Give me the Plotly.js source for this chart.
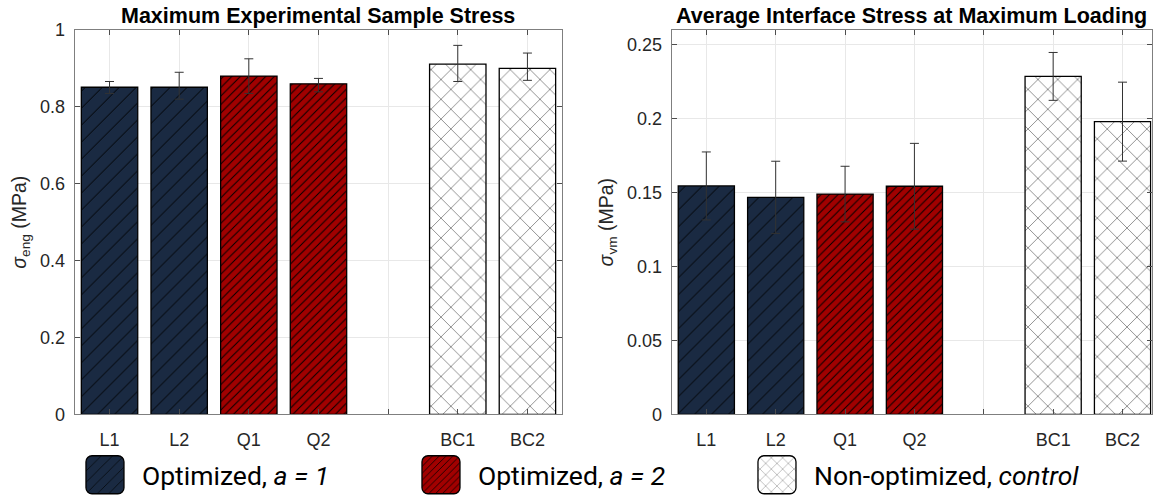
<!DOCTYPE html>
<html>
<head>
<meta charset="utf-8">
<script src="https://cdn.plot.ly/plotly-3.0.1.min.js"></script>
<style>
  html, body { margin: 0; padding: 0; background: #fff; }
  #chart { width: 1160px; height: 499px; }
</style>
</head>
<body>
<div id="chart"></div>
<script>
// Sample categories along the axis; the blank slot separates the control group
const axisCategories = ['L1', 'L2', 'Q1', 'Q2', ' ', 'BC1', 'BC2'];

// Groups
const linearSamples = ['L1', 'L2'];
const quadSamples = ['Q1', 'Q2'];
const controlSamples = ['BC1', 'BC2'];

const groupNames = ['Optimized, <i>a = 1</i>', 'Optimized, <i>a = 2</i>', 'Non-optimized, <i>control</i>'];

// Maximum experimental sample stress, sigma_eng (MPa)
const engLinear = [0.851, 0.851];
const engLinearErrUp = [0.015, 0.039];
const engLinearErrDown = [0.016, 0.031];
const engQuad = [0.880, 0.860];
const engQuadErrUp = [0.045, 0.014];
const engQuadErrDown = [0.045, 0.021];
const engControl = [0.911, 0.900];
const engControlErrUp = [0.049, 0.040];
const engControlErrDown = [0.045, 0.031];

// Average interface stress at maximum loading, sigma_vm (MPa)
const vmLinear = [0.1545, 0.1468];
const vmLinearErr = [0.0230, 0.0244];
const vmQuad = [0.1490, 0.1543];
const vmQuadErr = [0.0188, 0.0290];
const vmControl = [0.2286, 0.1980];
const vmControlErr = [0.0162, 0.0267];

const navy = '#1a2a42';
const crimson = '#a10000';

const styles = [
  { color: navy, pattern: { shape: '/', bgcolor: navy, fgcolor: '#000000', size: 12, solidity: 0.08 } },
  { color: crimson, pattern: { shape: '/', bgcolor: crimson, fgcolor: '#000000', size: 6, solidity: 0.16 } },
  { color: '#ffffff', pattern: { shape: 'x', bgcolor: '#ffffff', fgcolor: '#8c8c8c', size: 14, solidity: 0.13 } }
];

function barTrace(x, y, up, down, k, xa, ya, showLegend) {
  return {
    type: 'bar',
    x: x, y: y,
    xaxis: xa, yaxis: ya,
    width: 0.81,
    name: groupNames[k],
    legendgroup: 'g' + k,
    showlegend: showLegend,
    marker: {
      color: styles[k].color,
      pattern: styles[k].pattern,
      line: { color: '#000000', width: 1.3 }
    },
    error_y: {
      type: 'data', symmetric: false,
      array: up, arrayminus: down,
      color: '#333333', thickness: 1, width: 4.5
    },
    hoverinfo: 'x+y'
  };
}

const traces = [
  barTrace(linearSamples, engLinear, engLinearErrUp, engLinearErrDown, 0, 'x', 'y', true),
  barTrace(quadSamples, engQuad, engQuadErrUp, engQuadErrDown, 1, 'x', 'y', true),
  barTrace(controlSamples, engControl, engControlErrUp, engControlErrDown, 2, 'x', 'y', true),
  barTrace(linearSamples, vmLinear, vmLinearErr, vmLinearErr, 0, 'x2', 'y2', false),
  barTrace(quadSamples, vmQuad, vmQuadErr, vmQuadErr, 1, 'x2', 'y2', false),
  barTrace(controlSamples, vmControl, vmControlErr, vmControlErr, 2, 'x2', 'y2', false)
];

const tickFont = { family: 'Liberation Sans, Arial, sans-serif', size: 18, color: '#262626' };
const frame = {
  showline: true, linecolor: '#7f7f7f', linewidth: 1, mirror: 'ticks',
  ticks: 'inside', ticklen: 5, tickcolor: '#4d4d4d', tickwidth: 1,
  showgrid: true, gridcolor: '#e8e8e8', gridwidth: 1,
  zeroline: false, tickfont: tickFont, fixedrange: true
};

function catAxis(domain, range, yRef) {
  return Object.assign({}, frame, {
    type: 'category', categoryorder: 'array', categoryarray: axisCategories,
    domain: domain, range: range, anchor: yRef, ticklabelstandoff: 9
  });
}

function valAxis(domain, range, dtick, xRef, titleText, standoff) {
  return Object.assign({}, frame, {
    domain: domain, range: range, dtick: dtick, anchor: xRef,
    ticklabelstandoff: 5,
    title: { text: titleText, standoff: standoff,
             font: { family: 'Liberation Sans, Arial, sans-serif', size: 19.5, color: '#262626' } }
  });
}

const titleFont = { family: 'Liberation Sans, Arial, sans-serif', size: 21.5, color: '#000000' };

const layout = {
  width: 1160, height: 499,
  margin: { l: 0, r: 0, t: 0, b: 0 },
  paper_bgcolor: '#ffffff', plot_bgcolor: '#ffffff',
  barmode: 'overlay',
  showlegend: true,
  xaxis: catAxis([0.0644, 0.4847], [-0.5, 6.5], 'y'),
  yaxis: valAxis([0.1697, 0.9399], [0, 1], 0.2, 'x', '<i>σ</i><sub>eng</sub> (MPa)', 8),
  xaxis2: catAxis([0.579, 0.9928], [-0.5, 6.42], 'y2'),
  yaxis2: valAxis([0.1697, 0.9399], [0, 0.26], 0.05, 'x2', '<i>σ</i><sub>vm</sub> (MPa)', 8),
  legend: {
    orientation: 'h', x: 0.0586, xanchor: 'left', y: 0, yanchor: 'bottom',
    entrywidth: 257, entrywidthmode: 'pixels', itemwidth: 64,
    font: { family: 'Roboto, sans-serif', size: 26.5, color: '#000000' },
    bgcolor: 'rgba(0,0,0,0)', traceorder: 'normal',
    itemclick: false, itemdoubleclick: false
  },
  annotations: [
    { text: '<b>Maximum Experimental Sample Stress</b>', xref: 'x domain', yref: 'paper',
      x: 0.5, y: 0.968, xanchor: 'center', yanchor: 'middle', showarrow: false, font: titleFont },
    { text: '<b>Average Interface Stress at Maximum Loading</b>', xref: 'x2 domain', yref: 'paper',
      x: 0.5, y: 0.968, xanchor: 'center', yanchor: 'middle', showarrow: false, font: titleFont }
  ]
};

// Larger rounded swatches for the legend keys; let the last label run past the fixed entry width
const swatchPath = 'M-13,-19H13A6,6 0 0 1 19,-13V13A6,6 0 0 1 13,19H-13A6,6 0 0 1 -19,13V-13A6,6 0 0 1 -13,-19Z';
function enlargeSwatches(gd) {
  gd.querySelectorAll('.legend .legendpoints path').forEach(function (p) {
    p.setAttribute('d', swatchPath);
    p.style.strokeWidth = '1.3px';
  });
  gd.querySelectorAll('.legend [clip-path]').forEach(function (el) {
    el.removeAttribute('clip-path');
  });
}

const gd = document.getElementById('chart');
Plotly.newPlot(gd, traces, layout, { displayModeBar: false, staticPlot: true }).then(function () {
  enlargeSwatches(gd);
  gd.on('plotly_afterplot', function () { enlargeSwatches(gd); });
});
</script>
</body>
</html>
